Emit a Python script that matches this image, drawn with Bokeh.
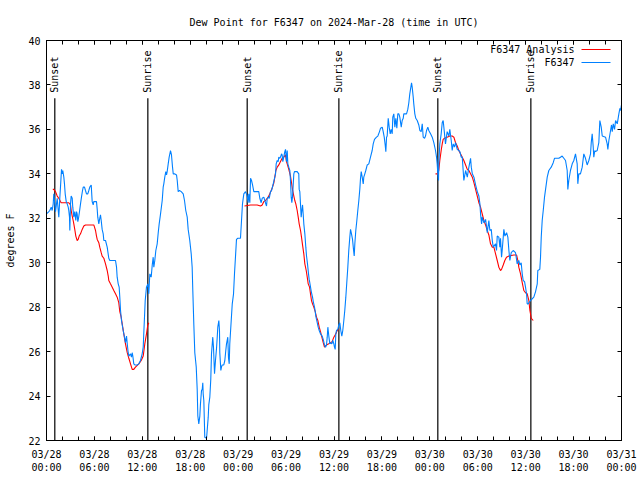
from datetime import datetime, timedelta
from bokeh.plotting import figure
from bokeh.models import (DatetimeAxis, LinearAxis, FixedTicker, DatetimeTickFormatter,
                          Range1d, Label, BoxAnnotation, CustomJSTickFormatter)
from bokeh.core.properties import value
from bokeh.embed import file_html
from bokeh.resources import INLINE

START = datetime(2024, 3, 28, 0, 0)
END = datetime(2024, 3, 31, 0, 0)

# F6347 observations: hours after 2024-03-28 00:00 UTC, dew point (F)
obs_hours = [0.00, 0.29, 0.41, 0.59, 0.71, 0.84, 0.91, 1.04, 1.13, 1.25, 1.34, 1.47, 1.54, 1.63, 1.67, 1.75,
             1.88, 1.97, 2.04, 2.17, 2.25, 2.34, 2.47, 2.59, 2.72, 2.79, 2.88, 2.92, 3.01, 3.09, 3.22, 3.29,
             3.42, 3.54, 3.67, 3.76, 3.84, 3.92, 4.01, 4.13, 4.26, 4.38, 4.51, 4.60, 4.76, 4.88, 5.01, 5.17,
             5.30, 5.42, 5.60, 5.72, 5.85, 5.92, 6.26, 6.35, 6.42, 6.55, 6.67, 6.76, 6.85, 6.97, 7.10, 7.18,
             7.39, 7.60, 7.80, 7.93, 8.64, 8.77, 8.85, 8.98, 9.10, 9.18, 9.27, 9.39, 9.60, 9.77, 9.89, 10.02,
             10.11, 10.23, 10.31, 10.52, 10.64, 10.73, 10.81, 10.93, 11.06, 11.36, 11.56, 11.77, 11.98, 12.11,
             12.18, 12.27, 12.36, 12.52, 12.69, 12.81, 12.94, 13.11, 13.24, 13.36, 13.44, 13.56, 13.69, 13.86,
             13.99, 14.11, 14.28, 14.49, 14.61, 14.69, 14.81, 14.94, 15.03, 15.11, 15.24, 15.36, 15.53, 15.65,
             15.78, 15.87, 16.03, 16.28, 16.37, 16.49, 16.65, 16.87, 17.12, 17.28, 17.44, 17.62, 17.74, 17.94,
             18.12, 18.24, 18.32, 18.45, 18.57, 18.75, 18.87, 18.95, 19.07, 19.20, 19.28, 19.41, 19.50, 19.57,
             19.62, 19.70, 19.82, 20.04, 20.12, 20.25, 20.32, 20.45, 20.57, 20.66, 20.82, 20.91, 21.04, 21.16,
             21.29, 21.37, 21.45, 21.58, 21.66, 21.70, 21.83, 21.91, 22.00, 22.20, 22.33, 22.45, 22.54, 22.70,
             22.79, 22.88, 22.95, 23.13, 23.26, 23.42, 23.54, 23.67, 23.79, 23.96, 24.29, 24.42, 24.54, 24.71,
             24.92, 25.13, 25.25, 25.33, 25.46, 25.55, 25.67, 25.80, 25.96, 26.58, 26.71, 26.88, 27.01, 27.21,
             27.42, 27.55, 27.64, 27.76, 27.89, 28.05, 28.18, 28.39, 28.55, 28.68, 28.76, 28.89, 29.01, 29.09,
             29.22, 29.30, 29.43, 29.51, 29.59, 29.71, 29.84, 29.93, 30.01, 30.05, 30.14, 30.22, 30.34, 30.47,
             30.55, 30.64, 30.72, 30.80, 30.89, 30.97, 31.05, 31.39, 31.59, 31.64, 31.72, 31.81, 31.89, 31.97,
             32.06, 32.14, 32.22, 32.35, 32.47, 32.56, 32.68, 32.81, 32.89, 32.97, 33.06, 33.18, 33.31, 33.43,
             33.56, 33.65, 33.72, 33.81, 33.90, 34.02, 34.15, 34.31, 34.52, 34.65, 34.81, 34.94, 35.06, 35.15,
             35.23, 35.35, 35.48, 35.56, 35.73, 35.85, 35.98, 36.06, 36.15, 36.23, 36.31, 36.48, 36.60, 36.73,
             36.85, 36.98, 37.10, 37.23, 37.35, 37.48, 37.60, 37.73, 37.85, 37.98, 38.07, 38.19, 38.32, 38.44,
             38.53, 38.61, 38.73, 38.86, 38.98, 39.11, 39.23, 39.32, 39.41, 39.53, 39.66, 39.73, 39.86, 39.98,
             40.16, 40.36, 40.57, 40.78, 40.91, 41.07, 41.32, 41.49, 41.70, 41.82, 42.04, 42.16, 42.29, 42.41,
             42.49, 42.58, 42.66, 42.79, 42.91, 43.04, 43.16, 43.29, 43.36, 43.49, 43.62, 43.74, 43.87, 43.99,
             44.12, 44.24, 44.42, 44.54, 44.67, 44.74, 45.08, 45.24, 45.37, 45.49, 45.58, 45.71, 45.79, 45.92,
             45.99, 46.12, 46.24, 46.42, 46.62, 46.75, 46.92, 47.05, 47.17, 47.34, 47.46, 47.59, 47.75, 47.87,
             48.09, 48.30, 48.50, 48.71, 48.84, 48.92, 49.00, 49.09, 49.12, 49.25, 49.42, 49.55, 49.67, 49.84,
             49.96, 50.17, 50.38, 50.50, 50.68, 50.80, 50.93, 51.09, 51.22, 51.43, 51.63, 51.76, 51.93, 52.06,
             52.26, 52.48, 52.69, 52.89, 53.10, 53.19, 53.32, 53.52, 53.73, 53.94, 54.14, 54.27, 54.35, 54.48,
             54.56, 54.77, 54.98, 55.10, 55.19, 55.39, 55.52, 55.69, 55.82, 55.94, 56.23, 56.35, 56.44, 56.64,
             56.77, 56.85, 56.98, 57.06, 57.27, 57.40, 57.61, 57.77, 57.90, 58.02, 58.19, 58.44, 58.73, 58.94,
             59.14, 59.27, 59.44, 59.57, 59.69, 59.86, 59.98, 60.11, 60.19, 60.32, 60.61, 61.02, 61.24, 61.45,
             61.52, 61.77, 61.86, 61.95, 62.07, 62.20, 62.36, 62.53, 62.70, 62.90, 63.20, 63.45, 63.61, 64.15,
             64.36, 64.57, 64.78, 64.99, 65.20, 65.28, 65.40, 65.61, 65.83, 66.03, 66.24, 66.45, 66.53, 66.65,
             66.86, 67.08, 67.28, 67.49, 67.70, 67.91, 68.12, 68.21, 68.33, 68.46, 68.53, 68.66, 68.75, 68.96,
             69.16, 69.29, 69.46, 69.59, 70.00, 70.21, 70.29, 70.42, 70.63, 70.75, 70.84, 70.97, 71.13, 71.26,
             71.47, 71.67, 71.80, 71.88, 72.00]
obs_dew = [32.2, 32.3, 32.35, 32.5, 32.35, 32.65, 33.1, 32.65, 32.3, 32.65, 32.9, 32.35, 32.05, 32.65, 32.95, 33.4,
           34.2, 34.0, 34.15, 33.85, 33.55, 33.1, 32.75, 32.65, 32.5, 32.35, 32.05, 31.45, 32.65, 33.0, 32.9, 32.5,
           32.05, 32.3, 31.9, 32.3, 32.2, 31.85, 32.0, 32.3, 32.65, 32.95, 33.25, 33.4, 33.4, 33.25, 33.1, 33.1,
           33.25, 33.4, 33.5, 32.75, 32.6, 32.75, 32.75, 32.4, 32.05, 31.75, 32.0, 32.15, 31.9, 31.5, 31.3, 31.0,
           31.0, 30.7, 30.2, 30.1, 30.1, 29.8, 29.35, 29.05, 28.9, 28.45, 27.85, 27.4, 26.95, 26.65, 26.4, 26.7,
           26.35, 25.95, 25.8, 25.9, 25.75, 25.95, 25.8, 25.45, 25.4, 25.4, 25.45, 25.6, 25.9, 26.2,
           26.8, 27.55, 28.3, 28.9, 29.05, 28.6, 29.5, 29.35, 29.9, 30.25, 29.8, 30.1, 30.55, 30.85,
           31.35, 31.75, 32.2, 32.8, 33.4, 33.55, 33.85, 34.1, 33.95, 34.1, 34.45, 34.75, 35.05, 34.85,
           34.3, 34.0, 34.0, 33.95, 33.7, 33.2, 33.25, 33.2, 33.1, 32.8, 32.35, 32.05, 31.5, 31.0,
           30.4, 29.8, 28.75, 27.2, 25.95, 25.3, 24.3, 23.1, 22.75, 23.1, 23.65, 24.25, 24.3, 24.6,
           24.1, 23.8, 22.15, 22.1, 22.45, 23.05, 23.6, 23.95, 24.75, 25.9, 26.65, 26.2, 25.0, 25.6,
           26.15, 26.6, 27.1, 27.4, 26.95, 25.95, 25.15, 25.3, 25.4, 25.4, 25.6, 26.05, 26.35, 26.65,
           25.7, 25.45, 26.35, 27.4, 28.15, 28.6, 29.5, 30.3, 31.05, 31.1, 31.1, 31.9, 32.65, 33.1,
           33.2, 33.0, 32.7, 33.1, 32.7, 33.8, 33.7, 33.5, 33.2, 33.2, 32.9, 32.7, 32.9, 32.95,
           32.7, 32.55, 32.9, 32.95, 32.9, 33.2, 33.25, 33.55, 33.8, 34.0, 34.45, 34.6, 34.55, 34.75,
           34.7, 34.75, 34.9, 34.85, 34.55, 34.75, 35.0, 35.1, 34.75, 34.55, 35.05, 34.45, 34.3, 34.15,
           33.7, 32.95, 32.7, 32.95, 33.5, 34.0, 34.1, 34.1, 34.0, 33.3, 33.2, 32.6, 32.05, 32.35,
           32.6, 32.2, 31.75, 31.3, 30.7, 30.3, 29.95, 29.5, 29.25, 29.1, 28.9, 28.65, 28.45, 28.2,
           28.0, 27.8, 27.6, 27.45, 27.3, 27.1, 26.95, 26.8, 26.7, 26.55, 26.3, 26.2, 26.3, 26.65,
           27.1, 26.7, 26.35, 26.4, 26.35, 26.5, 26.35, 26.2, 26.1, 26.8, 26.95, 27.0, 27.2, 27.3,
           26.95, 26.7, 26.95, 27.4, 27.85, 28.45, 29.1, 29.8, 30.55, 31.15, 31.5, 31.3, 31.05, 30.6,
           30.3, 30.85, 31.45, 31.9, 32.35, 32.8, 33.3, 33.8, 34.1, 33.85, 33.55, 33.85, 34.0, 34.15,
           34.4, 34.45, 34.75, 35.05, 35.35, 35.55, 35.65, 35.7, 35.9, 36.05, 36.1, 35.9, 35.65, 35.3,
           35.0, 35.65, 35.7, 36.5, 36.1, 35.8, 36.0, 35.8, 36.55, 36.7, 36.1, 36.5, 36.05, 36.7,
           36.7, 36.55, 36.1, 36.4, 36.5, 36.7, 36.7, 36.9, 37.2, 37.6, 37.8, 38.1, 37.9, 37.45,
           37.15, 36.7, 36.5, 36.4, 36.2, 35.95, 35.9, 36.25, 35.65, 35.6, 35.7, 35.95, 36.1, 35.95,
           35.8, 35.65, 35.4, 35.05, 34.75, 34.45, 34.0, 33.7, 34.45, 35.35, 35.8, 36.3, 36.4, 35.8,
           35.35, 35.9, 35.7, 36.0, 35.5, 35.05, 35.35, 35.2, 35.4, 35.1, 35.05, 35.0, 34.75, 34.75,
           33.7, 34.15, 33.85, 34.3, 34.7, 34.3, 34.0, 33.85, 33.5, 33.2, 33.0, 32.65, 32.2, 31.75,
           32.05, 31.8, 31.95, 31.65, 31.35, 31.9, 31.45, 31.5, 31.0, 30.7, 30.85, 30.55, 31.2, 31.15,
           30.7, 31.1, 30.25, 30.55, 31.5, 31.2, 31.35, 31.15, 30.55, 30.1, 30.45, 30.55, 30.45, 29.95,
           30.1, 29.9, 30.0, 29.5, 29.2, 29.15, 28.9, 28.6, 28.15, 28.15, 28.3, 28.45, 28.7, 29.05,
           29.65, 29.7, 30.25, 31.15, 31.9, 32.35, 32.95, 33.4, 33.85, 34.15, 34.3, 34.5, 34.7, 34.7,
           34.75, 34.8, 34.7, 34.6, 34.15, 33.3, 33.7, 34.15, 34.45, 34.6, 34.9, 34.45, 33.55, 34.0,
           34.0, 34.3, 34.9, 34.7, 34.4, 34.6, 34.9, 35.4, 35.8, 35.2, 34.75, 35.05, 35.0, 35.05,
           35.4, 36.4, 36.1, 35.7, 35.65, 35.35, 35.1, 35.5, 35.95, 36.2, 35.9, 36.25, 36.0, 36.4,
           36.25, 36.7, 36.95, 36.85, 37.1]

# F6347 Analysis (three night-time segments)
ana1_hours = [0.79, 0.91, 1.13, 1.34, 1.54, 1.75, 1.84, 2.79, 3.01, 3.09, 3.22, 3.34, 3.42, 3.54, 3.67, 3.84,
              3.97, 4.09, 4.26, 4.47, 4.67, 4.88, 5.72, 5.92, 6.01, 6.14, 6.26, 6.35, 6.55, 6.67, 6.85, 6.97,
              7.18, 7.39, 7.60, 7.73, 7.80, 8.01, 8.23, 8.43, 8.64, 8.85, 9.05, 9.18, 9.35, 9.48, 9.68, 9.89,
              10.11, 10.31, 10.52, 10.73, 10.93, 11.14, 11.56, 11.86, 12.11, 12.31, 12.52, 12.69, 12.81]
ana1_dew = [33.3, 33.3, 33.2, 33.0, 32.9, 32.75, 32.7, 32.7, 32.6, 32.35, 32.1, 31.9, 31.75, 31.5, 31.2, 31.0,
            31.05, 31.2, 31.3, 31.5, 31.65, 31.7, 31.7, 31.7, 31.6, 31.45, 31.2, 31.05, 30.9, 30.7, 30.45, 30.3,
            30.2, 29.95, 29.65, 29.4, 29.2, 29.05, 28.9, 28.75, 28.6, 28.45, 28.2, 27.8, 27.55, 27.25, 26.8, 26.35,
            25.95, 25.7, 25.45, 25.2, 25.2, 25.3, 25.45, 25.6, 25.8, 26.35, 26.8, 27.2, 27.3]
ana2_hours = [24.79, 25.55, 26.38, 26.80, 27.01, 27.21, 27.42, 27.64, 27.76, 27.96, 28.14, 28.30, 28.47, 28.59,
              28.72, 28.89, 29.09, 29.30, 29.51, 29.71, 29.93, 30.05, 30.14, 30.34, 30.55, 30.68, 30.80, 30.97,
              31.09, 31.22, 31.39, 31.52, 31.64, 31.81, 31.93, 32.06, 32.22, 32.35, 32.52, 32.65, 32.77, 32.94,
              33.06, 33.18, 33.31, 33.47, 33.65, 33.81, 33.98, 34.15, 34.31, 34.48, 34.65, 34.81, 35.06, 35.35,
              35.56, 35.77, 35.98, 36.23, 36.40, 36.60]
ana2_dew = [32.55, 32.6, 32.6, 32.55, 32.6, 32.75, 32.8, 32.9, 32.95, 33.1, 33.25, 33.4, 33.6, 33.85,
            34.15, 34.3, 34.4, 34.55, 34.7, 34.75, 34.85, 34.55, 34.45, 34.2, 33.9, 33.6, 33.3, 33.0,
            32.8, 32.65, 32.35, 32.05, 31.75, 31.45, 31.15, 30.8, 30.4, 29.95, 29.65, 29.35, 29.05, 28.9,
            28.6, 28.3, 28.15, 28.0, 27.8, 27.55, 27.4, 27.1, 26.9, 26.65, 26.4, 26.2, 26.3, 26.35,
            26.4, 26.45, 26.65, 26.8, 26.95, 27.0]
ana3_hours = [48.71, 49.00, 49.12, 49.25, 49.42, 49.55, 49.67, 49.84, 50.17, 50.50, 50.80, 51.01, 51.22, 51.43,
              51.63, 51.84, 52.06, 52.26, 52.48, 52.69, 52.89, 53.10, 53.32, 53.52, 53.73, 53.94, 54.14, 54.35,
              54.56, 54.77, 54.98, 55.19, 55.39, 55.60, 55.82, 56.02, 56.23, 56.44, 56.64, 56.85, 56.98, 57.19,
              57.39, 57.60, 57.90, 58.52, 58.86, 59.02, 59.14, 59.36, 59.57, 59.77, 59.98, 60.19, 60.40, 60.53,
              60.70, 60.95]
ana3_dew = [34.0, 34.0, 34.15, 34.6, 35.05, 35.35, 35.55, 35.6, 35.65, 35.7, 35.7, 35.65, 35.4, 35.25,
            35.05, 34.9, 34.75, 34.6, 34.4, 34.2, 34.15, 34.0, 33.85, 33.6, 33.3, 33.0, 32.7, 32.5,
            32.2, 31.9, 31.7, 31.45, 31.25, 30.85, 30.7, 30.7, 30.4, 30.1, 29.8, 29.65, 29.7, 29.9,
            30.1, 30.25, 30.3, 30.35, 30.35, 30.1, 29.8, 29.5, 29.1, 28.75, 28.65, 28.6, 28.3, 27.85,
            27.5, 27.4]

# Sun events (hours after 2024-03-28 00:00 UTC)
event_hours = [1.04, 12.69, 25.13, 36.61, 49.00, 60.65]
event_names = ["Sunset", "Sunrise", "Sunset", "Sunrise", "Sunset", "Sunrise"]

y_ticks = [22, 24, 26, 28, 30, 32, 34, 36, 38, 40]
x_tick_hours = list(range(0, 73, 6))
x_minor_hours = list(range(0, 73, 2))

BLUE = "#0080ff"
RED = "#ff0000"
FONT = "DejaVu Sans Mono"
FS = "10px"


def to_dt(hours):
    return [START + timedelta(hours=h) for h in hours]


def to_ms(hours):
    epoch = datetime(1970, 1, 1)
    return [((START + timedelta(hours=h)) - epoch).total_seconds() * 1000.0 for h in hours]


W, H = 640, 480
BL, BR, BT, BB = 46, 19, 40, 40
p = figure(width=W, height=H, x_axis_type="datetime", output_backend="svg", toolbar_location=None,
           x_range=Range1d(START, END), y_range=Range1d(y_ticks[0], y_ticks[-1]),
           min_border_left=BL, min_border_right=BR, min_border_top=BT, min_border_bottom=BB,
           title="Dew Point for F6347 on 2024-Mar-28 (time in UTC)")
p.title.align = "center"
p.title.text_font = FONT
p.title.text_font_size = FS
p.title.text_font_style = "normal"
p.title.text_color = "black"
p.title.standoff = 25
p.xgrid.visible = False
p.ygrid.visible = False
p.outline_line_color = "black"
p.outline_line_alpha = 1.0
p.background_fill_color = "white"
p.border_fill_color = "white"

xticker = FixedTicker(ticks=to_ms(x_tick_hours), minor_ticks=to_ms(x_minor_hours))
yticker = FixedTicker(ticks=y_ticks, minor_ticks=[])
fmt = "%m/%d\n%H:%M"
xfmt = DatetimeTickFormatter(milliseconds=fmt, seconds=fmt, minsec=fmt, minutes=fmt, hourmin=fmt,
                             hours=fmt, days=fmt, months=fmt, years=fmt)


def style_axis(ax):
    ax.axis_line_color = "black"
    ax.major_tick_line_color = "black"
    ax.minor_tick_line_color = "black"
    ax.major_tick_in = 4
    ax.major_tick_out = 0
    ax.minor_tick_in = 4
    ax.minor_tick_out = 0
    ax.major_label_text_font = FONT
    ax.major_label_text_font_size = FS
    ax.major_label_text_color = "black"
    ax.axis_label_text_font = FONT
    ax.axis_label_text_font_size = FS
    ax.axis_label_text_font_style = "normal"
    ax.axis_label_text_color = "black"


xa = p.xaxis[0]
xa.ticker = xticker
xa.formatter = xfmt
style_axis(xa)
xa.major_label_standoff = 8

ya = p.yaxis[0]
ya.ticker = yticker
style_axis(ya)
ya.minor_tick_in = 0
ya.major_label_standoff = 6
ya.axis_label = "degrees F"
ya.axis_label_standoff = 9

blank = CustomJSTickFormatter(code="return ''")
top = DatetimeAxis(ticker=xticker, formatter=blank)
style_axis(top)
top.major_label_standoff = 0
top.major_label_text_font_size = "1px"
p.add_layout(top, "above")
right = LinearAxis(ticker=yticker, formatter=blank)
style_axis(right)
right.minor_tick_in = 0
right.major_label_standoff = 0
right.major_label_text_font_size = "1px"
p.add_layout(right, "right")

# sunrise / sunset markers
line_top = 37.4
label_y = 37.65
p.segment(x0=to_dt(event_hours), y0=[y_ticks[0]] * len(event_hours),
          x1=to_dt(event_hours), y1=[line_top] * len(event_hours),
          line_color="black", line_width=1.2)
p.text(x=to_dt(event_hours), y=[label_y] * len(event_hours), text=event_names, angle=1.5708,
       text_align="left", text_baseline="middle", text_font=value(FONT), text_font_size=FS,
       text_color="black")

# analysis (red) then observations (blue)
for hrs, vals in [(ana1_hours, ana1_dew), (ana2_hours, ana2_dew), (ana3_hours, ana3_dew)]:
    p.line(to_dt(hrs), vals, line_color=RED, line_width=1.1)
p.line(to_dt(obs_hours), obs_dew, line_color=BLUE, line_width=1.1)

# gnuplot-style key (text right-aligned, sample line to the right); screen units from frame bottom-left
FRAME_H = H - BT - BB
key_items = [("F6347 Analysis", RED), ("F6347", BLUE)]
for i, (lab, col) in enumerate(key_items):
    ys = FRAME_H - 9 - 13 * i
    p.add_layout(Label(x=528, y=ys, x_units="screen", y_units="screen", text=lab,
                       text_align="right", text_baseline="middle", text_font=FONT,
                       text_font_size=FS, text_color="black"))
    p.add_layout(BoxAnnotation(left=535, right=564, bottom=ys - 0.5, top=ys + 0.5,
                               left_units="screen", right_units="screen",
                               bottom_units="screen", top_units="screen",
                               fill_color=col, fill_alpha=1.0, line_color=None))

open("out.html", "w").write(file_html(p, INLINE))
